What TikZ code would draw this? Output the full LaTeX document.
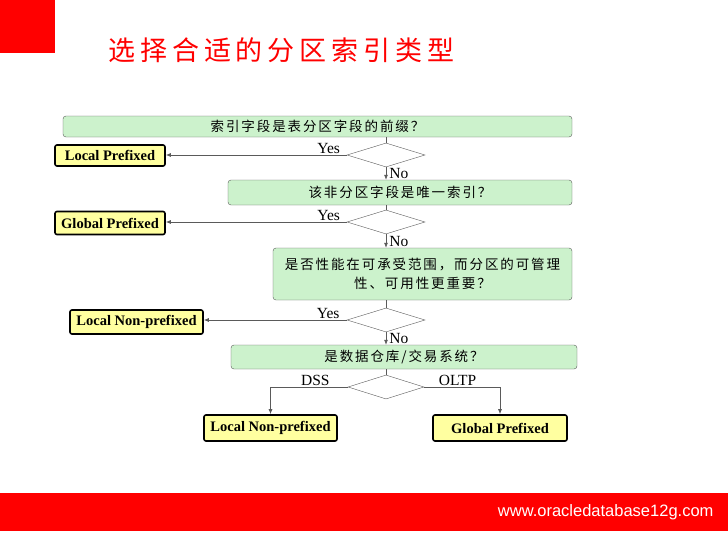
\documentclass[tikz,border=0pt]{standalone}
\usepackage{fontspec}
\setmainfont{Liberation Serif}
\setsansfont{Liberation Sans}
\newfontfamily\cjk{Noto Sans CJK SC}[LetterSpace=14]
\newfontfamily\cjktitle{Noto Sans CJK SC}[LetterSpace=18]
\usetikzlibrary{arrows.meta,shapes.geometric}
\definecolor{qgreen}{RGB}{204,242,204}
\definecolor{ayellow}{RGB}{255,255,160}
\definecolor{lgray}{RGB}{90,90,90}

\begin{document}
\begin{tikzpicture}[x=1pt,y=-1pt,>={Latex[length=5pt,width=4pt]},
   qbox/.style={draw=lgray,fill=qgreen,rounded corners=3pt,inner sep=0pt,align=center,
     font=\cjk\fontsize{13.5}{19}\selectfont},
   abox/.style={draw=black,line width=1.6pt,fill=ayellow,rounded corners=2pt,inner sep=0pt,
     font=\bfseries\fontsize{14.5}{16}\selectfont},
   dec/.style={diamond,draw=lgray,fill=white,inner sep=0pt,minimum width=78pt,minimum height=24pt},
   lbl/.style={font=\fontsize{15.5}{17}\selectfont,inner sep=1pt},
   line/.style={draw=lgray,line width=0.7pt}]
  \useasboundingbox (0,0) rectangle (728,546);
  % header and footer
  \fill[red] (0,0) rectangle (55,53);
  \node[text=red,anchor=west,font=\cjktitle\fontsize{27}{30}\selectfont] (title) at (105,50) {选择合适的分区索引类型};
  \fill[red] (0,493) rectangle (728,531);
  \node[text=white,anchor=east,font=\sffamily\fontsize{16.5}{18}\selectfont] (url) at (717,512) {www.oracledatabase12g.com};
  % questions
  \node[qbox,minimum width=509pt,minimum height=21pt] (q1) at (317.5,126.5) {索引字段是表分区字段的前缀？};
  \node[qbox,minimum width=344pt,minimum height=25pt] (q2) at (400,192.5) {该非分区字段是唯一索引？};
  \node[qbox,minimum width=299pt,minimum height=52pt] (q3) at (422.5,274) {是否性能在可承受范围，而分区的可管理\\性、可用性更重要？};
  \node[qbox,minimum width=346pt,minimum height=24pt] (q4) at (404,357) {是数据仓库/交易系统？};
  % decisions
  \node[dec] (d1) at (386,155) {};
  \node[dec] (d2) at (386,222) {};
  \node[dec] (d3) at (386,320) {};
  \node[dec,minimum width=76pt] (d4) at (386,387) {};
  % answers
  \node[abox,minimum width=110pt,minimum height=21pt] (a1) at (110,155.5) {Local Prefixed};
  \node[abox,minimum width=110pt,minimum height=23pt] (a2) at (110,223) {Global Prefixed};
  \node[abox,minimum width=133pt,minimum height=24pt] (a3) at (136.5,322) {Local Non-prefixed};
  \node[abox,minimum width=133pt,minimum height=26pt] (a4) at (270.5,428) {Local Non-prefixed};
  \node[abox,minimum width=134pt,minimum height=26pt] (a5) at (500,428) {Global Prefixed};
  % connectors
  \draw[line] (d1.north |- q1.south) -- (d1.north);
  \draw[line] (d2.north |- q2.south) -- (d2.north);
  \draw[line] (d3.north |- q3.south) -- (d3.north);
  \draw[line] (d4.north |- q4.south) -- (d4.north);
  \draw[line,->] (d1.west) -- (d1.west -| a1.east) node[lbl,pos=0.1,above] {Yes};
  \draw[line,->] (d2.west) -- (d2.west -| a2.east) node[lbl,pos=0.1,above] {Yes};
  \draw[line,->] (d3.west) -- (d3.west -| a3.east) node[lbl,pos=0.13,above] {Yes};
  \draw[line,->] (d1.south) -- (q2.north -| d1.south) node[lbl,midway,right,xshift=2pt] {No};
  \draw[line,->] (d2.south) -- (q3.north -| d2.south) node[lbl,midway,right,xshift=2pt] {No};
  \draw[line,->] (d3.south) -- (q4.north -| d3.south) node[lbl,midway,right,xshift=2pt] {No};
  \draw[line,->] (d4.west) -| (a4.north) node[lbl,pos=0.21,above] {DSS};
  \draw[line,->] (d4.east) -| (a5.north) node[lbl,pos=0.22,above] {OLTP};
\end{tikzpicture}
\end{document}
